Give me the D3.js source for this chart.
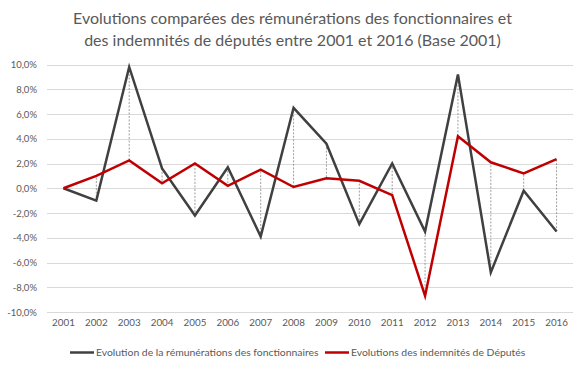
<!DOCTYPE html>
<html><head><meta charset="utf-8">
<script src="https://cdn.jsdelivr.net/npm/d3@7"></script>
<style>body{margin:0;background:#fff}svg{display:block}</style>
</head><body>
<svg id="c" width="585" height="366"></svg>
<script>
const years = ["2001","2002","2003","2004","2005","2006","2007","2008","2009","2010","2011","2012","2013","2014","2015","2016"];
const fonctionnaires = [0, -1.0, 9.8, 1.6, -2.2, 1.7, -3.9, 6.5, 3.6, -2.9, 2.0, -3.5, 9.2, -6.8, -0.2, -3.5];
const deputes = [0, 1.0, 2.25, 0.4, 2.0, 0.2, 1.5, 0.1, 0.8, 0.6, -0.55, -8.7, 4.2, 2.1, 1.2, 2.35];
const yTicks = [-10, -8, -6, -4, -2, 0, 2, 4, 6, 8, 10];
const titleLines = ["Evolutions comparées des rémunérations des fonctionnaires et", "des indemnités de députés entre 2001 et 2016 (Base 2001)"];
const seriesNames = ["Evolution de la rémunérations des fonctionnaires", "Evolutions des indemnités de Députés"];
const colors = ["#404040", "#c00000"];

const svg = d3.select("#c");
const font = "Lato, 'Open Sans', sans-serif";
const textColor = "#595959";

const x = d3.scaleBand().domain(years).range([47, 573]);
const y = d3.scaleLinear().domain([-10, 10]).range([312, 64.5]);
const cx = d => x(d) + x.bandwidth() / 2;

// title
svg.append("g").selectAll("text").data(titleLines).join("text")
  .attr("x", 292.5).attr("y", (d, i) => 24 + i * 21.5)
  .attr("text-anchor", "middle").attr("font-family", font).attr("font-size", 16)
  .attr("fill", textColor).text(d => d);

// gridlines
svg.append("g").selectAll("line").data(yTicks).join("line")
  .attr("x1", 47).attr("x2", 573)
  .attr("y1", d => Math.round(y(d)) + 0.5).attr("y2", d => Math.round(y(d)) + 0.5)
  .attr("stroke", "#d9d9d9").attr("stroke-width", 1);

// y axis labels
const yAxis = d3.axisLeft(y).tickValues(yTicks).tickSize(0).tickPadding(0)
  .tickFormat(d => d3.format(".1f")(d).replace(".", ",").replace("−", "-") + "%");
const gy = svg.append("g").attr("transform", "translate(37,0)").call(yAxis);
gy.select(".domain").remove();
gy.selectAll("text").attr("font-family", font).attr("font-size", 9.5).attr("fill", textColor);

// x axis labels
const xAxis = d3.axisBottom(x).tickSize(0).tickPadding(0);
const gx = svg.append("g").attr("transform", "translate(0,319)").call(xAxis);
gx.select(".domain").remove();
gx.selectAll("text").attr("font-family", font).attr("font-size", 9.8).attr("fill", textColor);

// high-low lines
svg.append("g").selectAll("line").data(years).join("line")
  .attr("x1", d => cx(d)).attr("x2", d => cx(d))
  .attr("y1", (d, i) => y(fonctionnaires[i])).attr("y2", (d, i) => y(deputes[i]))
  .attr("stroke", "#7f7f7f").attr("stroke-width", 0.75).attr("stroke-dasharray", "2,1.5");

// series
const line = d3.line().x((d, i) => cx(years[i])).y(d => y(d));
[fonctionnaires, deputes].forEach((s, k) => {
  svg.append("path").datum(s).attr("d", line)
    .attr("fill", "none").attr("stroke", colors[k]).attr("stroke-width", 2.5)
    .attr("stroke-linejoin", "miter");
});

// legend
const leg = [{x: 70, name: seriesNames[0], c: colors[0]}, {x: 325, name: seriesNames[1], c: colors[1]}];
const lg = svg.append("g").selectAll("g").data(leg).join("g").attr("transform", d => `translate(${d.x},352.5)`);
lg.append("line").attr("x1", 0).attr("x2", 24).attr("stroke", d => d.c).attr("stroke-width", 2.5);
lg.append("text").attr("x", 26).attr("dy", "0.35em").attr("font-family", font).attr("font-size", 10.4)
  .attr("fill", textColor).text(d => d.name);
</script>
</body></html>
